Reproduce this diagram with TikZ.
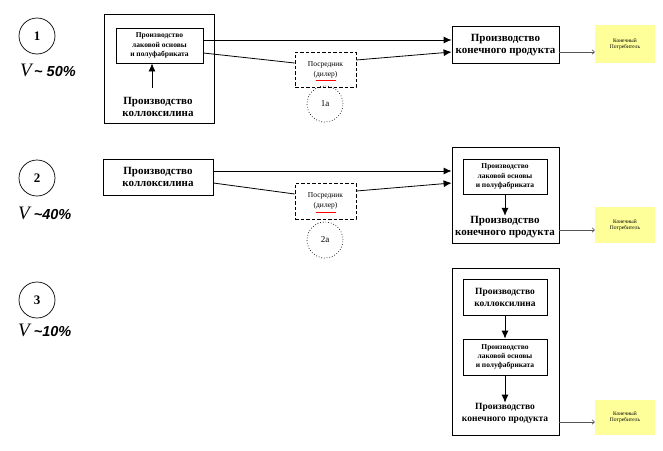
\documentclass[tikz,border=0pt]{standalone}
\usepackage{fontspec}
\setmainfont{Liberation Serif}
\newfontfamily\arialf{Liberation Sans}
\usetikzlibrary{arrows.meta}
\definecolor{lightyel}{HTML}{FFFF99}
\definecolor{grayline}{HTML}{555555}
\newcommand{\vlabel}[1]{{\fontsize{19}{19}\selectfont\itshape V}{\arialf\bfseries\itshape\fontsize{14.5}{14.5}\selectfont #1}}
\tikzset{
  box/.style={draw=black, line width=0.8pt, inner sep=0pt, align=center, anchor=center},
  dbox/.style={draw=black, line width=0.7pt, dash pattern=on 3.5pt off 2pt, inner sep=0pt, align=center},
  ybox/.style={fill=lightyel, inner sep=0pt, align=center, font=\fontsize{5.5}{6.5}\selectfont},
  numc/.style={draw=black, line width=0.7pt, circle, minimum size=36pt, inner sep=0pt, font=\fontsize{13}{14}\selectfont\bfseries},
  dotc/.style={draw=black, line width=0.7pt, dotted, circle, minimum size=36pt, inner sep=0pt, font=\fontsize{9}{10}\selectfont},
  bigt/.style={align=center, inner sep=0pt, font=\fontsize{11}{12.5}\selectfont\bfseries},
  smallt/.style={font=\fontsize{7.5}{9.3}\selectfont\bfseries},
  midt/.style={font=\fontsize{7.5}{10}\selectfont},
  arr/.style={line width=0.8pt, -{Latex[length=8pt,width=7pt]}},
  ln/.style={line width=0.8pt},
  garr/.style={line width=0.6pt, draw=grayline, -{To[length=3pt,width=5pt]}},
  vtxt/.style={inner sep=0pt, anchor=west}
}
\begin{document}
\begin{tikzpicture}[x=1pt,y=-1pt]
\useasboundingbox (0,0) rectangle (663,450);

% Left labels
\node[numc] (n1) at (37,36) {1};
\node[vtxt] (v1) at (20,70) {\vlabel{\,\char`\~\ 50\%}};
\node[numc] (n2) at (37,178) {2};
\node[vtxt] (v2) at (18,213) {\vlabel{\ \char`\~40\%}};
\node[numc] (n3) at (37,300) {3};
\node[vtxt] (v3) at (18,330) {\vlabel{\ \char`\~10\%}};

% Row 1
\node[box, minimum width=110pt, minimum height=109pt] (k1) at (159,68.5) {};
\node[box, minimum width=87pt, minimum height=35pt, smallt] (ib1) at (159.5,45.5) {Производство\\лаковой основы\\и полуфабриката};
\node[bigt] (t1) at (158,107) {Производство\\коллоксилина};
\coordinate (c1) at (152,88);
\draw[arr] (c1) -- (c1 |- ib1.south);

\node[box, minimum width=107pt, minimum height=37pt, bigt] (fp1) at (505.5,45) {Производство\\конечного продукта};
\node[dbox, minimum width=61pt, minimum height=35pt, midt] (d1) at (325.5,69.5) {Посредник\\(дилер)};
\draw[red, line width=0.5pt] ([xshift=-10pt,yshift=-11pt]d1.center) -- ([xshift=10pt,yshift=-11pt]d1.center);
\node[dotc] (a1) at (325,104) {1а};

\draw[arr] (ib1.east |- 0,40) -- (fp1.west |- 0,40);
\draw[ln] (ib1.east |- 0,53) -- (d1.west |- 0,63);
\draw[arr] (d1.east |- 0,60) -- (fp1.west |- 0,52);

\node[ybox, minimum width=60pt, minimum height=38pt] (y1) at (625,44) {Конечный\\Потребитель};
\draw[garr] (fp1.east |- 0,52) -- (y1.west |- 0,52);

% Row 2
\node[box, minimum width=110pt, minimum height=36pt, bigt] (k2) at (158,177) {Производство\\коллоксилина};
\node[box, minimum width=107pt, minimum height=96pt] (fp2) at (505.5,195) {};
\node[box, minimum width=84pt, minimum height=35pt, smallt] (ib2) at (505,176.5) {Производство\\лаковой основы\\и полуфабриката};
\node[bigt] (t2) at (505,227) {Производство\\конечного продукта};
\draw[arr] (ib2.south) -- (ib2.south |- t2.north);
\node[dbox, minimum width=61pt, minimum height=36pt, midt] (d2) at (325.5,201) {Посредник\\(дилер)};
\draw[red, line width=0.5pt] ([xshift=-10pt,yshift=-11pt]d2.center) -- ([xshift=10pt,yshift=-11pt]d2.center);
\node[dotc] (a2) at (325,240) {2а};

\draw[arr] (k2.east |- 0,171) -- (fp2.west |- 0,171);
\draw[ln] (k2.east |- 0,183) -- (d2.west |- 0,194);
\draw[arr] (d2.east |- 0,191) -- (fp2.west |- 0,183);

\node[ybox, minimum width=60pt, minimum height=36pt] (y2) at (625,225) {Конечный\\Потребитель};
\draw[garr] (fp2.east |- 0,230) -- (y2.west |- 0,230);

% Row 3
\node[box, minimum width=107pt, minimum height=167pt] (fp3) at (505.5,351.5) {};
\node[box, minimum width=84pt, minimum height=36pt, font=\fontsize{9.5}{12}\selectfont\bfseries] (k3) at (505,297) {Производство\\коллоксилина};
\node[box, minimum width=84pt, minimum height=36pt, smallt] (ib3) at (505,357) {Производство\\лаковой основы\\и полуфабриката};
\node[bigt, font=\fontsize{9.5}{12}\selectfont\bfseries] (t3) at (505,413) {Производство\\конечного продукта};
\draw[arr] (k3.south) -- (ib3.north);
\draw[arr] (ib3.south) -- (ib3.south |- t3.north);

\node[ybox, minimum width=60pt, minimum height=35pt] (y3) at (625,417) {Конечный\\Потребитель};
\draw[garr] (fp3.east |- 0,422) -- (y3.west |- 0,422);

\end{tikzpicture}
\end{document}
